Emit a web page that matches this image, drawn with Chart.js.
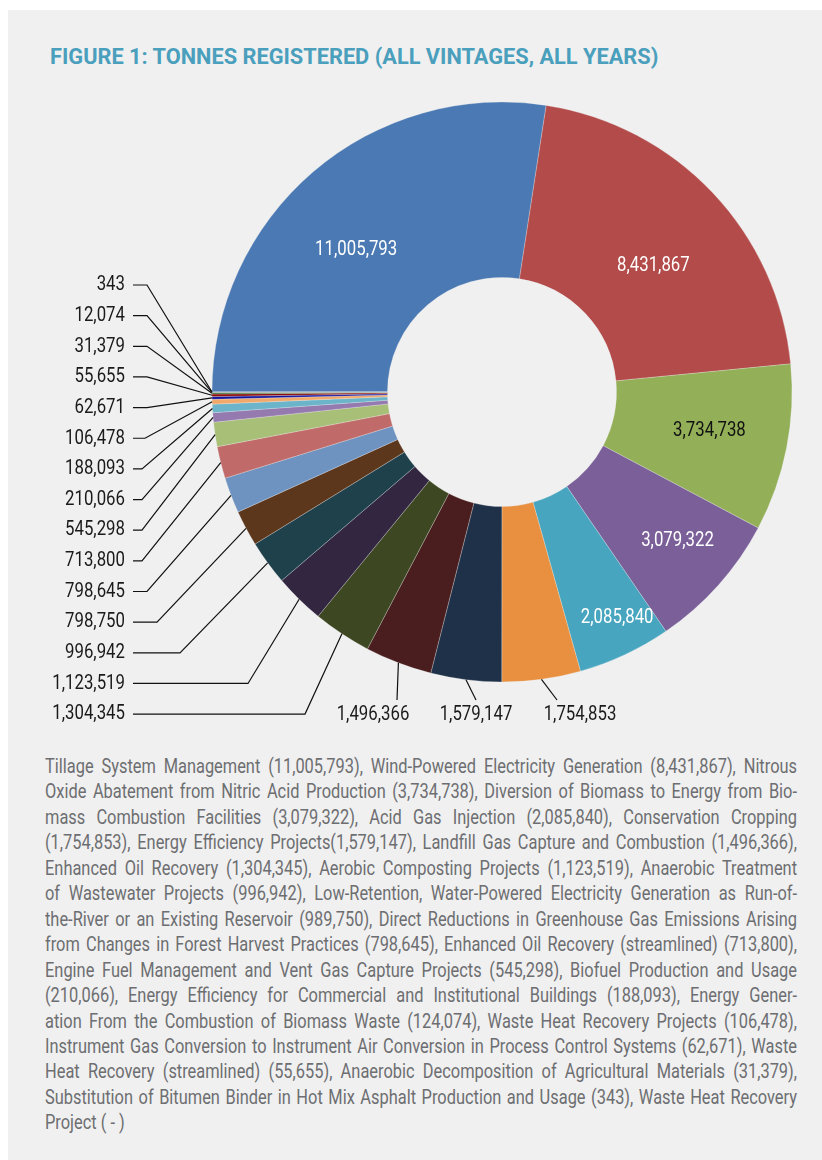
<!DOCTYPE html>
<html>
<head>
<meta charset="utf-8">
<script src="https://cdn.jsdelivr.net/npm/chart.js@4.4.1/dist/chart.umd.min.js"></script>
<style>
html, body { margin: 0; padding: 0; background: #fff; }
body {
    width: 822px; height: 1160px; position: relative; overflow: hidden;
    font-family: Roboto, "Liberation Sans", sans-serif;
}
#panel { position: absolute; left: 8px; top: 10px; right: 0; bottom: 0; background: #f0f0f0; }
#title {
    position: absolute; left: 50px; top: 44px; margin: 0;
    font-size: 22px; font-weight: bold; color: #4a9fbd; white-space: nowrap;
    transform-origin: 0 0;
}
#chartBox { position: absolute; left: 0; top: 0; width: 822px; height: 740px; }
/* text is set wide and squeezed horizontally to get a condensed face */
#notes {
    position: absolute; left: 45px; top: 754px; width: 940px;
    font-size: 20.5px; line-height: 25.45px; color: #6d6e71;
    transform: scaleX(0.8); transform-origin: 0 0;
}
#notes div { text-align: justify; text-align-last: justify; white-space: nowrap; }
#notes div.last { text-align-last: left; }
</style>
</head>
<body>
<div id="panel"></div>
<h1 id="title">FIGURE 1: TONNES REGISTERED (ALL VINTAGES, ALL YEARS)</h1>
<div id="chartBox"><canvas id="donut" width="822" height="740"></canvas></div>
<div id="notes">
    <div>Tillage System Management (11,005,793), Wind-Powered Electricity Generation (8,431,867), Nitrous</div>
    <div>Oxide Abatement from Nitric Acid Production (3,734,738), Diversion of Biomass to Energy from Bio-</div>
    <div>mass Combustion Facilities (3,079,322), Acid Gas Injection (2,085,840), Conservation Cropping</div>
    <div>(1,754,853), Energy Efficiency Projects(1,579,147), Landfill Gas Capture and Combustion (1,496,366),</div>
    <div>Enhanced Oil Recovery (1,304,345), Aerobic Composting Projects (1,123,519), Anaerobic Treatment</div>
    <div>of Wastewater Projects (996,942), Low-Retention, Water-Powered Electricity Generation as Run-of-</div>
    <div>the-River or an Existing Reservoir (989,750), Direct Reductions in Greenhouse Gas Emissions Arising</div>
    <div>from Changes in Forest Harvest Practices (798,645), Enhanced Oil Recovery (streamlined) (713,800),</div>
    <div>Engine Fuel Management and Vent Gas Capture Projects (545,298), Biofuel Production and Usage</div>
    <div>(210,066), Energy Efficiency for Commercial and Institutional Buildings (188,093), Energy Gener-</div>
    <div>ation From the Combustion of Biomass Waste (124,074), Waste Heat Recovery Projects (106,478),</div>
    <div>Instrument Gas Conversion to Instrument Air Conversion in Process Control Systems (62,671), Waste</div>
    <div>Heat Recovery (streamlined) (55,655), Anaerobic Decomposition of Agricultural Materials (31,379),</div>
    <div>Substitution of Bitumen Binder in Hot Mix Asphalt Production and Usage (343), Waste Heat Recovery</div>
    <div class="last">Project ( - )</div>
</div>
<script>
// project types, in the order the slices run clockwise from 9 o'clock
const categories = [
    'Tillage System Management',
    'Wind-Powered Electricity Generation',
    'Nitrous Oxide Abatement from Nitric Acid Production',
    'Diversion of Biomass to Energy from Biomass Combustion Facilities',
    'Acid Gas Injection',
    'Conservation Cropping',
    'Energy Efficiency Projects',
    'Landfill Gas Capture and Combustion',
    'Enhanced Oil Recovery',
    'Aerobic Composting Projects',
    'Anaerobic Treatment of Wastewater Projects',
    'Low-Retention, Water-Powered Electricity Generation',
    'Direct Reductions in Greenhouse Gas Emissions (Forest Harvest)',
    'Enhanced Oil Recovery (streamlined)',
    'Engine Fuel Management and Vent Gas Capture Projects',
    'Biofuel Production and Usage',
    'Energy Efficiency for Commercial and Institutional Buildings',
    'Waste Heat Recovery Projects',
    'Instrument Gas Conversion to Instrument Air Conversion',
    'Waste Heat Recovery (streamlined)',
    'Anaerobic Decomposition of Agricultural Materials',
    'Energy Generation From the Combustion of Biomass Waste',
    'Substitution of Bitumen Binder in Hot Mix Asphalt'
];
const tonnes = [
    11005793, 8431867, 3734738, 3079322, 2085840, 1754853, 1579147, 1496366,
    1304345, 1123519, 996942, 798750, 798645, 713800, 545298, 210066,
    188093, 106478, 62671, 55655, 31379, 12074, 343
];
const sliceColors = [
    '#4a79b3', '#b34b4a', '#93b058', '#7a5f99', '#47a5bf', '#e8903f', '#1f3149', '#4a1e1e',
    '#3d4722', '#322640', '#1e414c', '#5c371c', '#6e93c0', '#c06b6a', '#a8bf78', '#957ab0',
    '#6bb4c9', '#f1a96b', '#1515a0', '#8b0a0a', '#2a6a2a', '#555555', '#222222'
];

// labels drawn inside the ring: index, text colour, radial position, angle nudge (deg)
const insideIdx = [0, 1, 2, 3, 4];
const insideColors = ['#ffffff', '#ffffff', '#111111', '#ffffff', '#ffffff'];
const insideRadial = [0.51, 0.47, 0.55, 0.66, 0.79];
const insideNudge = [-5, 3.6, -0.6, -1.4, -2];

// labels in the left column, top to bottom
const leftIdx = [22, 21, 20, 19, 18, 17, 16, 15, 14, 13, 12, 11, 10, 9, 8];
const leftElbowX = [147, 147, 147, 147, 147, 145, 142, 142, 142, 142, 147, 157, 180, 248, 305];

// labels under the ring
const bottomIdx = [7, 6, 5];
const bottomLabelX = [373, 476, 580];
const bottomLeaderX = [397, 476, 557];

const fmt = v => v.toLocaleString('en-US');
const labelFont = '21px Roboto, "Liberation Sans", sans-serif';
const squeeze = 0.8;

// condensed text: draw with a horizontal squeeze around the anchor
function drawText(ctx, text, x, y, align) {
    ctx.save();
    ctx.translate(x, y);
    ctx.scale(squeeze, 1);
    ctx.textAlign = align;
    ctx.fillText(text, 0, 0);
    ctx.restore();
}

const sliceLabels = {
    id: 'sliceLabels',
    afterDatasetsDraw(chart) {
        const ctx = chart.ctx;
        const arcs = chart.getDatasetMeta(0).data;
        ctx.save();
        ctx.font = labelFont;
        ctx.textBaseline = 'middle';

        insideIdx.forEach((i, k) => {
            const a = arcs[i];
            const mid = (a.startAngle + a.endAngle) / 2 + insideNudge[k] * Math.PI / 180;
            const r = a.innerRadius + (a.outerRadius - a.innerRadius) * insideRadial[k];
            ctx.fillStyle = insideColors[k];
            drawText(ctx, fmt(tonnes[i]), a.x + Math.cos(mid) * r, a.y + Math.sin(mid) * r, 'center');
        });

        ctx.strokeStyle = '#111';
        ctx.lineWidth = 1.2;
        ctx.fillStyle = '#1a1a1a';

        leftIdx.forEach((i, k) => {
            const a = arcs[i];
            const mid = (a.startAngle + a.endAngle) / 2;
            const y = 285 + k * 30.65;
            ctx.beginPath();
            ctx.moveTo(133, y);
            ctx.lineTo(leftElbowX[k], y);
            ctx.lineTo(a.x + Math.cos(mid) * a.outerRadius, a.y + Math.sin(mid) * a.outerRadius);
            ctx.stroke();
            drawText(ctx, fmt(tonnes[i]), 125, y, 'right');
        });

        bottomIdx.forEach((i, k) => {
            const a = arcs[i];
            const mid = (a.startAngle + a.endAngle) / 2;
            ctx.beginPath();
            ctx.moveTo(a.x + Math.cos(mid) * a.outerRadius, a.y + Math.sin(mid) * a.outerRadius);
            ctx.lineTo(bottomLeaderX[k], 700);
            ctx.stroke();
            drawText(ctx, fmt(tonnes[i]), bottomLabelX[k], 715, 'center');
        });
        ctx.restore();
    }
};

// squeeze the title so it spans the same width as the printed one
const titleEl = document.getElementById('title');
titleEl.style.transform = 'scaleX(' + (608 / titleEl.offsetWidth).toFixed(3) + ')';

new Chart(document.getElementById('donut'), {
    type: 'doughnut',
    data: {
        labels: categories,
        datasets: [{
            data: tonnes,
            backgroundColor: sliceColors,
            borderColor: 'rgba(240,240,240,0.45)',
            borderWidth: 0.6
        }]
    },
    options: {
        responsive: false,
        animation: false,
        rotation: 270,
        radius: 290,
        cutout: '39.5%',
        layout: { padding: { left: 202, right: 20, top: 92, bottom: 48 } },
        plugins: {
            legend: { display: false },
            tooltip: { enabled: false }
        }
    },
    plugins: [sliceLabels]
});
</script>
</body>
</html>
